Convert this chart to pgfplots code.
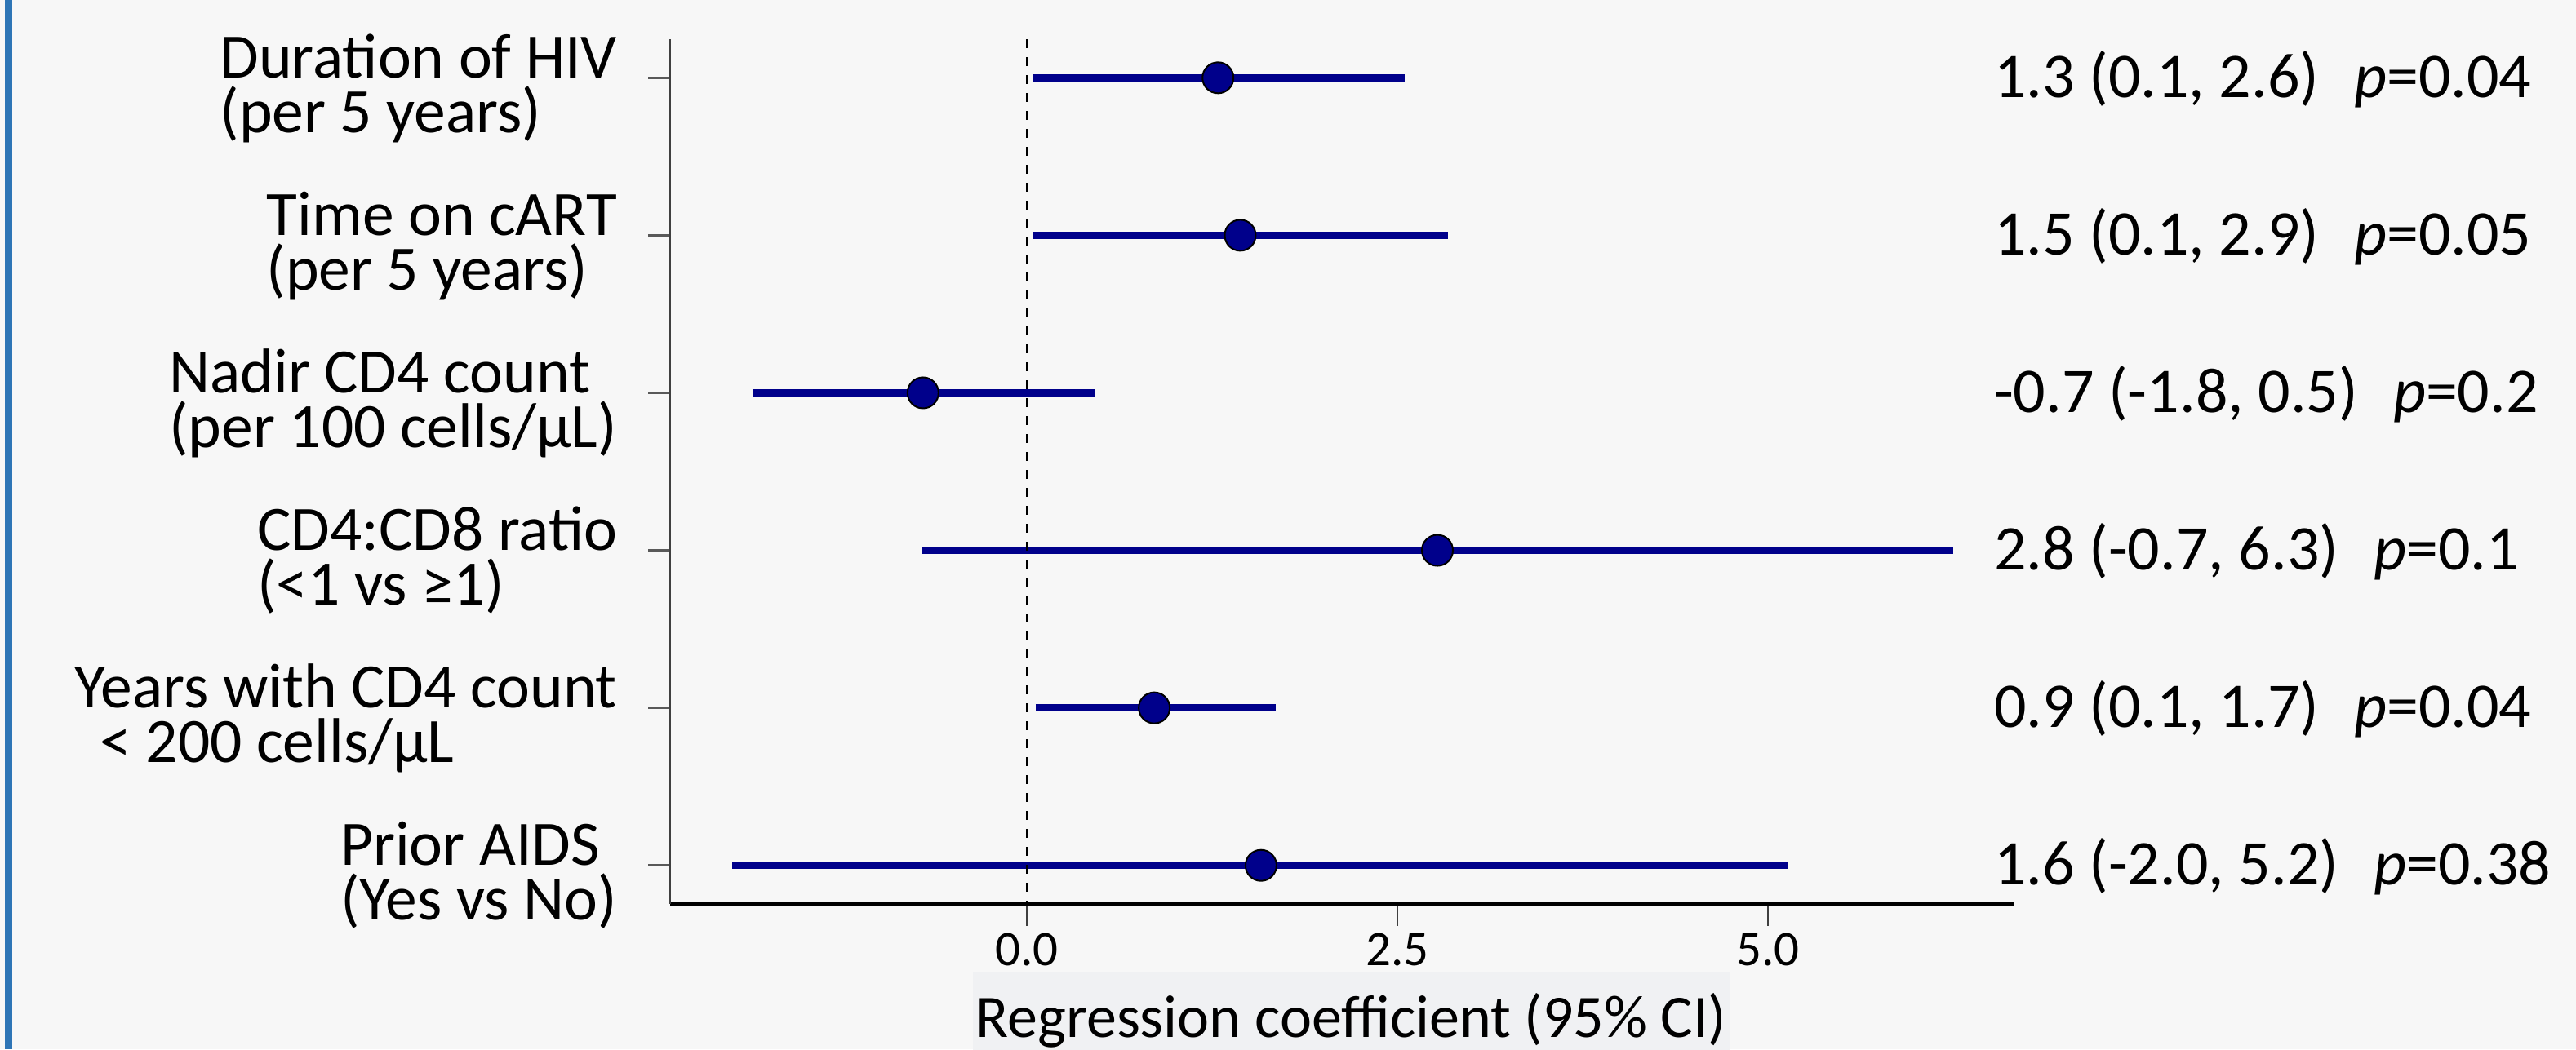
\documentclass[border=0pt]{standalone}
\usepackage{fontspec}
\setmainfont{Carlito}
\usepackage{pgfplots}
\pgfplotsset{compat=1.18}
\definecolor{bg}{HTML}{F7F7F7}
\definecolor{lblbg}{HTML}{F0F1F3}
\definecolor{stripe}{HTML}{2E75B6}
\definecolor{ci}{HTML}{00008B}
\newcommand\lab[2]{\vtop{\baselineskip=13.4pt\lineskiplimit=-20pt\lineskip=0pt\hbox{#1}\hbox{#2}}}
\newcommand\rt[2]{#1\hspace{0.55em}\textit{p}=#2}
\begin{document}
\begin{tikzpicture}
\fill[bg] (0,0) rectangle (631.2pt,257.2pt);
\fill[stripe] (1.2pt,0) rectangle (2.9pt,257.2pt);
\begin{axis}[
 at={(164.2pt,35.6pt)}, anchor=south west,
 scale only axis, width=329.4pt, height=212pt,
 xmin=-2.406, xmax=6.663, ymin=0.755, ymax=6.245, y dir=reverse,
 axis x line*=bottom, axis y line*=left,
 x axis line style={-, black, line width=0.8pt},
 y axis line style={-, black!75, line width=0.5pt},
 xtick={0,2.5,5}, xticklabels={0.0,2.5,5.0},
 ytick={1,2,3,4,5,6},
 yticklabels={{\lab{Duration of HIV}{(per 5 years)}},
              {\lab{Time on cART}{(per 5 years)}},
              {\lab{Nadir CD4 count}{(per 100 cells/µL)}},
              {\lab{CD4:CD8 ratio}{(<1 vs ≥1)}},
              {\lab{Years with CD4 count}{\hspace*{0.4em}< 200 cells/µL}},
              {\lab{Prior AIDS}{(Yes vs No)}}},
 tick align=outside, major tick length=5.3pt,
 every major x tick/.append style={black!75, line width=0.35pt},
 every major y tick/.append style={black!65, line width=0.6pt},
 xticklabel style={font=\fontsize{12.2pt}{14pt}\selectfont, anchor=north, inner sep=0pt, yshift=-1.6pt},
 yticklabel style={font=\fontsize{15.5pt}{13.4pt}\selectfont, anchor=base east, inner sep=0pt, xshift=-7.5pt},
 xlabel={Regression coefficient (95\% CI)},
 xlabel style={at={(axis description cs:0.5,0)}, anchor=north, yshift=-16.4pt, xshift=2.2pt,
   fill=lblbg, inner xsep=0.8pt, inner ysep=0pt, text height=16pt, text depth=6pt,
   font=\fontsize{14.8pt}{16pt}\selectfont},
 clip=false,
]
\addplot[ci, line width=1.8pt] coordinates {(0.04,1) (2.55,1)};
\addplot[ci, line width=1.8pt] coordinates {(0.04,2) (2.84,2)};
\addplot[ci, line width=1.8pt] coordinates {(-1.85,3) (0.46,3)};
\addplot[ci, line width=1.8pt] coordinates {(-0.71,4) (6.25,4)};
\addplot[ci, line width=1.8pt] coordinates {(0.06,5) (1.68,5)};
\addplot[ci, line width=1.8pt] coordinates {(-1.99,6) (5.14,6)};
\addplot[black, line width=0.35pt, dash pattern=on 2.2pt off 2.2pt] coordinates {(0,0.755) (0,6.245)};
\addplot[only marks, mark=*, mark size=3.8pt, mark options={fill=ci, draw=none}]
  coordinates {(1.29,1) (1.44,2) (-0.70,3) (2.77,4) (0.86,5) (1.58,6)};
\begin{scope}[every node/.style={anchor=base west, inner sep=0pt, font=\fontsize{15.6pt}{18pt}\selectfont, yshift=-4.8pt}]
\node at (axis cs:6.52,1) {\rt{1.3 (0.1, 2.6)}{0.04}};
\node at (axis cs:6.52,2) {\rt{1.5 (0.1, 2.9)}{0.05}};
\node at (axis cs:6.52,3) {\rt{-0.7 (-1.8, 0.5)}{0.2}};
\node at (axis cs:6.52,4) {\rt{2.8 (-0.7, 6.3)}{0.1}};
\node at (axis cs:6.52,5) {\rt{0.9 (0.1, 1.7)}{0.04}};
\node at (axis cs:6.52,6) {\rt{1.6 (-2.0, 5.2)}{0.38}};
\end{scope}
\end{axis}
\pgfresetboundingbox
\useasboundingbox (0,0) rectangle (631.2pt,257.2pt);
\end{tikzpicture}
\end{document}
